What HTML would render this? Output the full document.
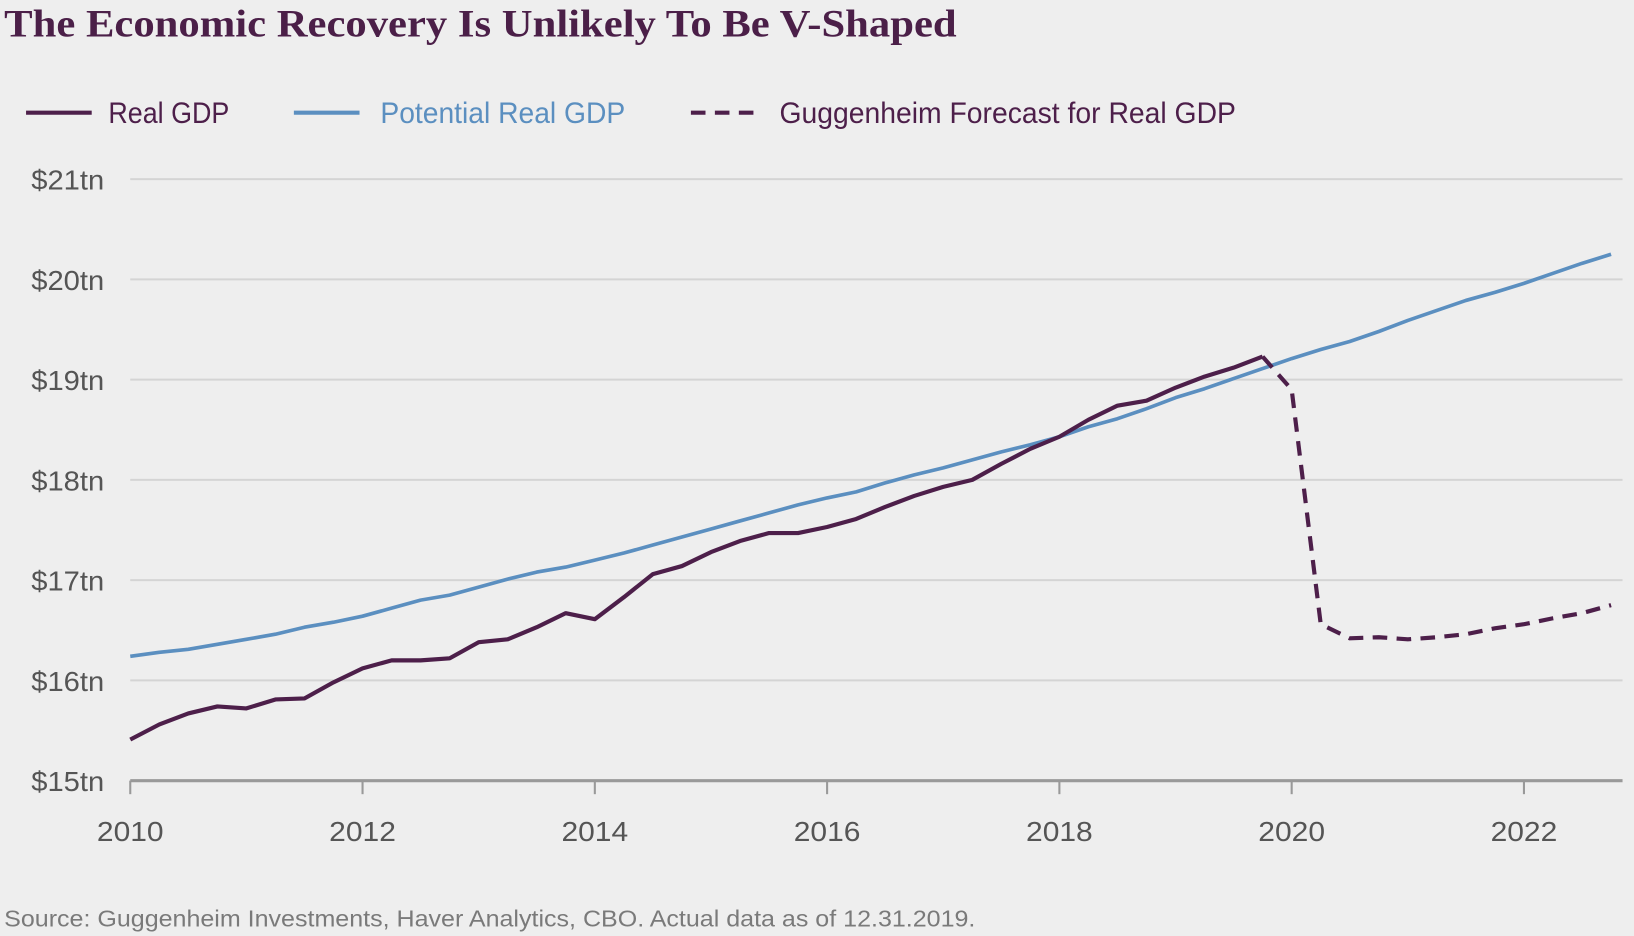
<!DOCTYPE html>
<html><head><meta charset="utf-8"><style>
html,body{margin:0;padding:0;background:#eeeeee;}
svg{display:block;}
text{font-family:"Liberation Sans",sans-serif;}
</style></head>
<body>
<svg id="chart" width="1634" height="936" viewBox="0 0 1568 898" xmlns="http://www.w3.org/2000/svg">
<rect x="0" y="0" width="1568" height="898" fill="#eeeeee"/>
<text x="4" y="35" style="font-family:'Liberation Serif',serif;font-weight:600" font-size="38" fill="#4b1f48" textLength="914" lengthAdjust="spacingAndGlyphs">The Economic Recovery Is Unlikely To Be V-Shaped</text>
<g>
  <g>
    <line x1="25" y1="108" x2="88" y2="108" stroke="#4d1f4a" stroke-width="4"/>
    <text x="104" y="118" font-size="28" fill="#4d1f4a" textLength="116" lengthAdjust="spacingAndGlyphs">Real GDP</text>
  </g>
  <g>
    <line x1="282" y1="108" x2="345" y2="108" stroke="#5b8fc0" stroke-width="4"/>
    <text x="365" y="118" font-size="28" fill="#5b8fc0" textLength="235" lengthAdjust="spacingAndGlyphs">Potential Real GDP</text>
  </g>
  <g>
    <line x1="663" y1="108" x2="725" y2="108" stroke="#4d1f4a" stroke-width="4" stroke-dasharray="14,9"/>
    <text x="748" y="118" font-size="28" fill="#4d1f4a" textLength="438" lengthAdjust="spacingAndGlyphs">Guggenheim Forecast for Real GDP</text>
  </g>
</g>
<g id="grid"></g>
<g id="axes"></g>
<g id="series"></g>
<text x="4" y="889" font-size="22" fill="#7a7a7a" textLength="932" lengthAdjust="spacingAndGlyphs">Source: Guggenheim Investments, Haver Analytics, CBO. Actual data as of 12.31.2019.</text>
</svg>
<script>
const yTicks = [15,16,17,18,19,20,21];
const yTickLabels = ["$15tn","$16tn","$17tn","$18tn","$19tn","$20tn","$21tn"];
const xTicks = [2010,2012,2014,2016,2018,2020,2022];
const xTickLabels = ["2010","2012","2014","2016","2018","2020","2022"];
const realStart = 2010;
const realGdp = [15.41,15.56,15.67,15.74,15.72,15.81,15.82,15.98,16.12,16.20,16.20,16.22,16.38,16.41,16.53,16.67,16.61,16.83,17.06,17.14,17.28,17.39,17.47,17.47,17.53,17.61,17.73,17.84,17.93,18.00,18.16,18.31,18.43,18.60,18.74,18.79,18.92,19.03,19.12,19.23];
const forecastStart = 2019.75;
const forecastGdp = [19.23,18.90,16.56,16.42,16.43,16.41,16.43,16.46,16.52,16.56,16.62,16.67,16.75];
const potentialStart = 2010;
const potentialGdp = [16.24,16.28,16.31,16.36,16.41,16.46,16.53,16.58,16.64,16.72,16.80,16.85,16.93,17.01,17.08,17.13,17.20,17.27,17.35,17.43,17.51,17.59,17.67,17.75,17.82,17.88,17.97,18.05,18.12,18.20,18.28,18.35,18.43,18.53,18.61,18.71,18.82,18.91,19.01,19.11,19.21,19.30,19.38,19.48,19.59,19.69,19.79,19.87,19.96,20.06,20.16,20.25];

const X0=125, X1=1557, Y15=749, PX_PER_YEAR=111.45, PX_PER_TN=96.2;
function xS(year){return X0+(year-2010)*PX_PER_YEAR;}
function yS(v){return Y15-(v-15)*PX_PER_TN;}
const NS="http://www.w3.org/2000/svg";
function mk(tag,attrs,parent){const e=document.createElementNS(NS,tag);for(const k in attrs)e.setAttribute(k,attrs[k]);parent.appendChild(e);return e;}
const grid=document.getElementById('grid'), axes=document.getElementById('axes'), series=document.getElementById('series');

yTicks.forEach((v,i)=>{
  if(v>15){
    const l=mk('line',{x1:X0,x2:X1,y1:yS(v),y2:yS(v),stroke:'#d4d4d4','stroke-width':2},grid);
    
    
  }
  const t=mk('text',{x:100,y:yS(v)+10,'font-size':27,fill:'#555','text-anchor':'end',textLength:70,lengthAdjust:'spacingAndGlyphs'},axes);
  t.textContent=yTickLabels[i];
  
  
});
const ax=mk('line',{x1:X0,x2:X1,y1:Y15,y2:Y15,stroke:'#999','stroke-width':3},axes);


xTicks.forEach((yr,i)=>{
  const tk=mk('line',{x1:xS(yr),x2:xS(yr),y1:Y15,y2:Y15+13,stroke:'#999','stroke-width':2},axes);
  
  
  const t=mk('text',{x:xS(yr),y:807,'font-size':27,fill:'#555','text-anchor':'middle',textLength:64,lengthAdjust:'spacingAndGlyphs'},axes);
  t.textContent=xTickLabels[i];
  
  
});
function pts(arr,start){return arr.map((v,i)=>xS(start+i*0.25).toFixed(1)+','+yS(v).toFixed(1)).join(' ');}
const pot=mk('polyline',{points:pts(potentialGdp,potentialStart),fill:'none',stroke:'#5b8fc0','stroke-width':3.5,'stroke-linejoin':'round'},series);


const fc=mk('polyline',{points:pts(forecastGdp,forecastStart),fill:'none',stroke:'#4d1f4a','stroke-width':4,'stroke-dasharray':'14,9'},series);


const real=mk('polyline',{points:pts(realGdp,realStart),fill:'none',stroke:'#4d1f4a','stroke-width':4,'stroke-linejoin':'round'},series);


</script>
</body></html>
